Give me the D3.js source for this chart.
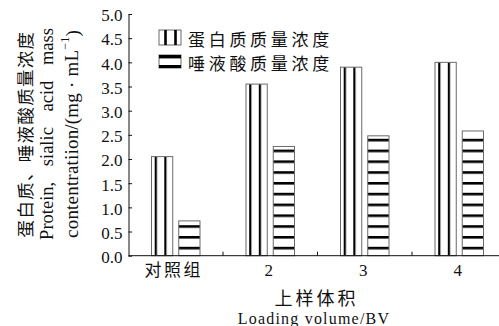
<!DOCTYPE html>
<html><head><meta charset="utf-8">
<script src="https://cdn.jsdelivr.net/npm/d3@7/dist/d3.min.js"></script>
<style>body{margin:0;background:#fff} svg{display:block}
.serif{font-family:"Liberation Serif","Tinos","Times New Roman","DejaVu Serif",serif}
.cjk{font-family:"Noto Sans CJK SC","Noto Sans CJK JP",sans-serif}
</style>
</head><body>
<svg id="chart" width="499" height="326"></svg>
<script>
// Protein and sialic acid mass concentration by loading volume
const categories = ["对照组", "2", "3", "4"];
const seriesNames = ["蛋白质质量浓度", "唾液酸质量浓度"];
const proteinValues = [2.05, 3.55, 3.90, 4.00];
const sialicValues = [0.72, 2.26, 2.48, 2.58];
const yTickValues = [0, 0.5, 1.0, 1.5, 2.0, 2.5, 3.0, 3.5, 4.0, 4.5, 5.0];
const yTitleLines = ["蛋白质、唾液酸质量浓度", "Protein, sialic acid mass", "contentratiion/(mg · mL"];
const xTitleLines = ["上样体积", "Loading volume/BV"];

const INK = "#111";

const svg = d3.select("#chart");
const plotLeft = 128.5, plotBottom = 255.7, plotTop = 14;

const x0 = d3.scaleBand().domain(categories).range([plotLeft, plotLeft + 4 * 94.5]).padding(0);
const x1 = d3.scaleBand().domain(seriesNames).range([23, 71.5]).paddingInner(0.22);
const y = d3.scaleLinear().domain([0, 5]).range([plotBottom, plotTop]);

// fill patterns
const defs = svg.append("defs");
const pv = defs.append("pattern").attr("id", "vstripe").attr("patternUnits", "userSpaceOnUse")
  .attr("x", 151).attr("y", 0).attr("width", 9.6).attr("height", 10);
pv.append("rect").attr("width", 9.6).attr("height", 10).attr("fill", "#fff");
pv.append("rect").attr("x", 0).attr("width", 2.2).attr("height", 10).attr("fill", "#000");
const ph = defs.append("pattern").attr("id", "hstripe").attr("patternUnits", "userSpaceOnUse")
  .attr("x", 0).attr("y", 246.8).attr("width", 10).attr("height", 10.8);
ph.append("rect").attr("width", 10).attr("height", 10.8).attr("fill", "#fff");
ph.append("rect").attr("y", 0).attr("width", 10).attr("height", 2.6).attr("fill", "#000");

const fills = ["url(#vstripe)", "url(#hstripe)"];
const rows = categories.map((c, i) => ({ cat: c, vals: [proteinValues[i], sialicValues[i]] }));

// bars
const groups = svg.append("g").selectAll("g").data(rows).join("g")
  .attr("transform", d => `translate(${x0(d.cat)},0)`);
groups.selectAll("rect").data(d => d.vals.map((v, k) => ({ v, k })))
  .join("rect")
  .attr("x", d => x1(seriesNames[d.k]))
  .attr("width", x1.bandwidth())
  .attr("y", d => y(d.v))
  .attr("height", d => y(0) - y(d.v))
  .attr("fill", d => fills[d.k])
  .attr("stroke", "#6a6a6a").attr("stroke-width", 1);

// y axis
const yAxis = svg.append("g").attr("transform", `translate(${plotLeft},0)`)
  .call(d3.axisLeft(y).tickValues(yTickValues).tickFormat(d3.format(".1f")).tickSizeInner(-3.5).tickSizeOuter(0).tickPadding(6));
yAxis.attr("font-family", null);
yAxis.select(".domain").attr("stroke", INK);
yAxis.selectAll(".tick line").attr("stroke", INK);
yAxis.selectAll(".tick text").attr("class", "serif").attr("font-size", 17).attr("fill", INK).attr("dy", "0.4em");

// x axis
const xAxis = svg.append("g").attr("transform", `translate(0,${plotBottom})`)
  .call(d3.axisBottom(x0).tickSize(0).tickPadding(8));
xAxis.attr("font-family", null);
xAxis.select(".domain").attr("stroke", INK).attr("d", `M${plotLeft},0H499`);
xAxis.selectAll(".tick text").attr("fill", INK).attr("dy", "0.75em")
  .attr("class", d => d === categories[0] ? "cjk" : "serif")
  .attr("font-size", 17)
  .attr("letter-spacing", d => d === categories[0] ? 2.5 : 0)
  .attr("dx", d => d === categories[0] ? -2 : -1.5);
xAxis.selectAll(".gridtick").data(categories.slice(1)).join("line")
  .attr("x1", d => x0(d)).attr("x2", d => x0(d)).attr("y1", 0).attr("y2", -4)
  .attr("stroke", INK);

// legend
const legend = svg.append("g");
const lx = 159, sw = 22;
legend.append("rect").attr("x", lx).attr("y", 30).attr("width", sw).attr("height", 15)
  .attr("fill", "#fff").attr("stroke", "#6a6a6a");
[5.2, 15.2].forEach(o => legend.append("rect").attr("x", lx + o).attr("y", 30).attr("width", 2.6).attr("height", 15).attr("fill", "#000"));
legend.append("rect").attr("x", lx).attr("y", 55).attr("width", sw).attr("height", 13)
  .attr("fill", "#fff").attr("stroke", "#6a6a6a");
legend.append("rect").attr("x", lx).attr("y", 55).attr("width", sw).attr("height", 3.4).attr("fill", "#000");
legend.append("rect").attr("x", lx).attr("y", 65).attr("width", sw).attr("height", 3).attr("fill", "#000");
legend.selectAll("text.lg").data(seriesNames).join("text")
  .attr("class", "cjk")
  .attr("x", 188).attr("y", (d, i) => [38.5, 62][i])
  .attr("dominant-baseline", "central")
  .attr("font-size", 17).attr("letter-spacing", 3.7).attr("fill", INK)
  .text(d => d);

// y title
const yt = svg.append("g");
const ytX = [24, 47, 71.5];
yTitleLines.forEach((t, i) => {
  const txt = yt.append("text")
    .attr("transform", `translate(${ytX[i]},134) rotate(-90)`)
    .attr("text-anchor", "middle").attr("dominant-baseline", "central")
    .attr("fill", INK);
  if (i === 0) {
    txt.attr("class", "cjk").attr("font-size", 17.5).attr("letter-spacing", 1.3).text(t);
  } else if (i === 1) {
    txt.attr("class", "serif").attr("font-size", 18.5).attr("word-spacing", 11).text(t);
  } else {
    txt.attr("class", "serif").attr("font-size", 19).attr("letter-spacing", 0.2).text(t);
    txt.append("tspan").attr("font-size", 12).attr("dy", -7).text("−1");
    txt.append("tspan").attr("dy", 7).text(")");
  }
});

// x title
svg.append("text").attr("class", "cjk").attr("x", 315).attr("y", 297).attr("text-anchor", "middle")
  .attr("dominant-baseline", "central").attr("font-size", 18)
  .attr("letter-spacing", 3).attr("dx", 1.5).attr("fill", INK).text(xTitleLines[0]);
svg.append("text").attr("class", "serif").attr("x", 314).attr("y", 318).attr("text-anchor", "middle")
  .attr("dominant-baseline", "central").attr("font-size", 16)
  .attr("letter-spacing", 1.2).attr("fill", INK).text(xTitleLines[1]);
</script>
</body></html>
